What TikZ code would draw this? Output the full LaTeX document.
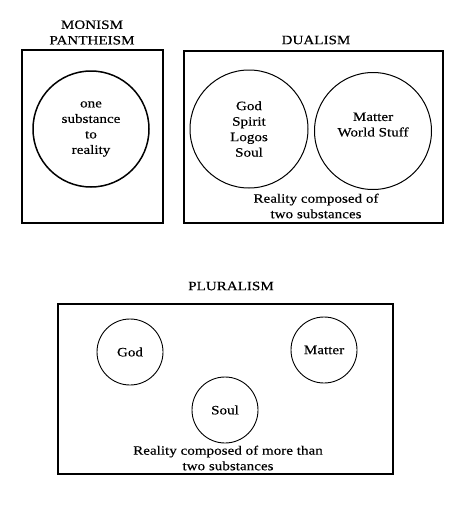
\documentclass[tikz,border=0pt]{standalone}
\usepackage{fontspec}
\setmainfont{Liberation Serif}[FakeStretch=1.18,FakeBold=0.35]
\usepackage{tikz}
\usetikzlibrary{positioning}

\begin{document}
\begin{tikzpicture}[x=1pt,y=-1pt,font=\fontsize{12.8}{15.5}\selectfont]
  \tikzstyle{frame}=[draw,line width=1.4pt,inner sep=0pt]
  \tikzstyle{substance}=[draw,circle,inner sep=0pt,align=center,line width=1pt]
  \tikzstyle{heading}=[align=center,inner sep=0pt]
  \useasboundingbox (0,0) rectangle (450,517);
  % monism
  \node[frame,minimum width=141pt,minimum height=173pt] (monism) at (92.5,136.5) {};
  \node[heading] (monismtitle) at (92,32.5) {MONISM\\PANTHEISM};
  \node[substance,line width=1.5pt,minimum size=116pt] (one) at (91,129) {one\\substance\\to\\reality};
  % dualism
  \node[frame,minimum width=259pt,minimum height=172pt] (dualism) at (313.5,137) {};
  \node[heading] (dualismtitle) at (316,40) {DUALISM};
  \node[substance,minimum size=118pt] (spirit) at (249,129) {God\\Spirit\\Logos\\Soul};
  \node[substance,minimum size=117pt] (matter) at (373,131) {Matter\\World Stuff\\[-2.5pt]};
  \node[heading] (dualismtext) at (316,206) {Reality composed of\\two substances};
  % pluralism
  \node[frame,minimum width=335pt,minimum height=170pt] (pluralism) at (225.5,389) {};
  \node[heading] (pluralismtitle) at (231,286) {PLURALISM};
  \node[substance,line width=0.9pt,minimum size=66pt] (god) at (130,352) {God};
  \node[substance,line width=0.9pt,minimum size=66pt] (stuff) at (324,350) {Matter};
  \node[substance,line width=0.9pt,minimum size=66pt] (soul) at (225,410) {Soul};
  \node[heading] (pluralismtext) at (228,458) {Reality composed of more than\\two substances};
\end{tikzpicture}
\end{document}
